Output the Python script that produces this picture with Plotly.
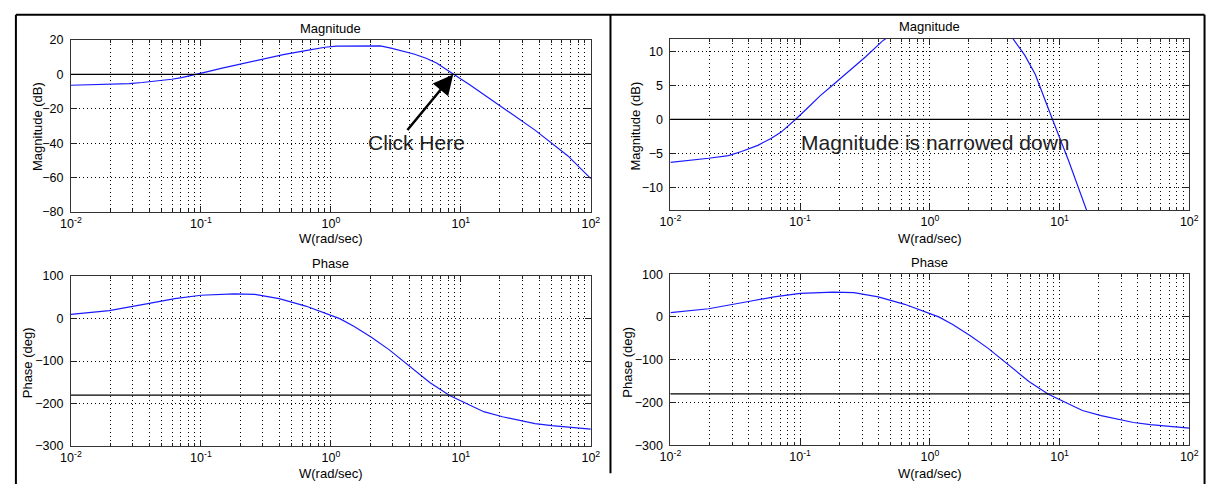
import math
import plotly.graph_objects as go

W, H = 1217, 491

# Open-loop frequency response: magnitude (dB) against frequency (rad/sec)
mag_w = [0.01, 0.0148, 0.0197, 0.028, 0.0353, 0.0472, 0.0596, 0.071, 0.082, 0.092,
         0.113, 0.143, 0.175, 0.24, 0.32, 0.43, 0.64, 0.9, 1.1, 1.6, 2.4, 2.9,
         4.35, 5.4, 6.5, 8.73, 11.7, 20.9, 37.2, 66.7, 100]
mag_db = [-6.3, -6.0, -5.7, -5.3, -4.7, -3.8, -2.8, -1.9, -0.9, 0.0,
          1.6, 3.5, 4.9, 7.1, 9.2, 11.5, 13.8, 15.8, 16.5, 16.7, 16.6, 15.3,
          11.9, 9.4, 6.6, 0.2, -6.0, -19.2, -32.4, -47.4, -60.6]

# Phase (deg) against frequency (rad/sec)
phase_w = [0.01, 0.0197, 0.04, 0.063, 0.1, 0.14, 0.18, 0.26, 0.32, 0.4, 0.64, 1.0, 1.17,
           1.5, 2.05, 2.8, 3.66, 5.8, 8.2, 11.7, 15.0, 20.9, 28.0, 37.2, 50.0, 66.7, 100]
phase_deg = [10, 19, 36, 47, 55, 57.5, 58, 57, 53, 47, 29.5, 7, 0,
             -18, -44, -73, -101, -151, -181, -204, -219, -231, -240, -247, -252, -256, -260]

# Gain crossover frequency marked by the arrow
crossover_w = 8.73
crossover_db = 0

# Axis ticks
decades = [0.01, 0.1, 1, 10, 100]
decade_labels = ["10<sup>-2</sup>", "10<sup>-1</sup>", "10<sup>0</sup>",
                 "10<sup>1</sup>", "10<sup>2</sup>"]
minor_vals = [k * 10 ** e for e in range(-2, 2) for k in range(2, 10)]
mag_ticks = [-80, -60, -40, -20, 0, 20]
mag_zoom_ticks = [-10, -5, 0, 5, 10]
phase_ticks = [-300, -200, -100, 0, 100]

FONT = "Liberation Sans, Arial, Helvetica, sans-serif"
DOT = "1px,3px"


def pxx(x):
    return x / W


def pxy(y):
    return 1 - y / H


def x_axis(x0, x1, anchor):
    return dict(
        type="log", range=[-2, 2], domain=[pxx(x0), pxx(x1)], anchor=anchor,
        tickmode="array", tickvals=decades, ticktext=decade_labels,
        ticks="inside", ticklen=6, tickcolor="#222", mirror="allticks",
        showline=True, linecolor="#333", linewidth=1,
        showgrid=True, gridcolor="black", griddash=DOT, gridwidth=1,
        minor=dict(tickmode="array", tickvals=minor_vals, ticks="inside",
                   ticklen=3, tickcolor="#222", showgrid=True,
                   gridcolor="black", griddash=DOT, gridwidth=1),
        tickfont=dict(family=FONT, size=12.5, color="black"),
        zeroline=False, fixedrange=True,
    )


def y_axis(y_top, y_bottom, anchor, rng, ticks):
    return dict(
        domain=[pxy(y_bottom), pxy(y_top)], anchor=anchor, range=rng,
        tickmode="array", tickvals=ticks,
        ticks="inside", ticklen=6, tickcolor="#222", mirror="allticks",
        showline=True, linecolor="#333", linewidth=1,
        showgrid=True, gridcolor="black", griddash=DOT, gridwidth=1,
        tickfont=dict(family=FONT, size=12.5, color="black"),
        ticklabelstandoff=4, zeroline=False, fixedrange=True,
    )


fig = go.Figure()
line_style = dict(color="#1a1aff", width=1.2)
fig.add_trace(go.Scatter(x=mag_w, y=mag_db, mode="lines", line=line_style,
                         xaxis="x", yaxis="y", showlegend=False))
fig.add_trace(go.Scatter(x=phase_w, y=phase_deg, mode="lines", line=line_style,
                         xaxis="x2", yaxis="y2", showlegend=False))
fig.add_trace(go.Scatter(x=mag_w, y=mag_db, mode="lines", line=line_style,
                         xaxis="x3", yaxis="y3", showlegend=False))
fig.add_trace(go.Scatter(x=phase_w, y=phase_deg, mode="lines", line=line_style,
                         xaxis="x4", yaxis="y4", showlegend=False))

fig.update_layout(
    width=W, height=H, margin=dict(l=0, r=0, t=0, b=0),
    paper_bgcolor="white", plot_bgcolor="white",
    xaxis=x_axis(61, 590, "y"),
    yaxis=y_axis(34, 211, "x", [-80, 20], mag_ticks),
    xaxis2=x_axis(61, 590, "y2"),
    yaxis2=y_axis(277, 452, "x2", [-300, 100], phase_ticks),
    xaxis3=x_axis(671, 1199, "y3"),
    yaxis3=y_axis(33, 209, "x3", [-13.3, 11.8], mag_zoom_ticks),
    xaxis4=x_axis(671, 1199, "y4"),
    yaxis4=y_axis(275, 451, "x4", [-300, 100], phase_ticks),
)

# 0 dB and -180 deg reference lines
for xa, ya, val in [("x", "y", 0), ("x3", "y3", 0), ("x2", "y2", -180), ("x4", "y4", -180)]:
    fig.add_shape(type="line", xref=f"{xa} domain", x0=0, x1=1, yref=ya, y0=val, y1=val,
                  line=dict(color="black", width=1.2), layer="above")

# Frame round both panels and the divider between them
frame = dict(color="black", width=2)
fig.add_shape(type="line", xref="paper", yref="paper", x0=pxx(5), x1=pxx(1214.5),
              y0=pxy(8), y1=pxy(8), line=frame)
fig.add_shape(type="line", xref="paper", yref="paper", x0=pxx(5), x1=pxx(5),
              y0=pxy(8), y1=pxy(491), line=frame)
fig.add_shape(type="line", xref="paper", yref="paper", x0=pxx(1214.5), x1=pxx(1214.5),
              y0=pxy(8), y1=pxy(491), line=frame)
fig.add_shape(type="line", xref="paper", yref="paper", x0=pxx(610), x1=pxx(610),
              y0=pxy(8), y1=pxy(480), line=frame)


def label(text, x, y, size=13, angle=0, color="black"):
    fig.add_annotation(text=text, x=pxx(x), y=pxy(y), xref="paper", yref="paper",
                       showarrow=False, xanchor="center", yanchor="middle",
                       textangle=angle, font=dict(family=FONT, size=size, color=color))


# Subplot titles and axis labels
for cx, ty_mag, ty_ph, lx_mag, lx_ph in [(325.5, 22, 264, 27, 17), (935, 20, 263, 635, 627)]:
    label("Magnitude", cx, ty_mag)
    label("Phase", cx, ty_ph)
    label("W(rad/sec)", cx, 238)
    label("W(rad/sec)", cx, 480)
    label("Magnitude (dB)", lx_mag, 123, angle=-90)
    label("Phase (deg)", lx_ph, 366, angle=-90)

# Callouts
label("Click Here", 413, 139, size=21, color="#222")
label("Magnitude is narrowed down", 941, 139, size=21, color="#222")

fig.add_annotation(x=math.log10(crossover_w), y=crossover_db, xref="x", yref="y",
                   text="", showarrow=True, arrowhead=2, arrowsize=1.6,
                   arrowwidth=2.5, arrowcolor="black", ax=-47, ay=57, standoff=0)

fig.write_html("out.html")
